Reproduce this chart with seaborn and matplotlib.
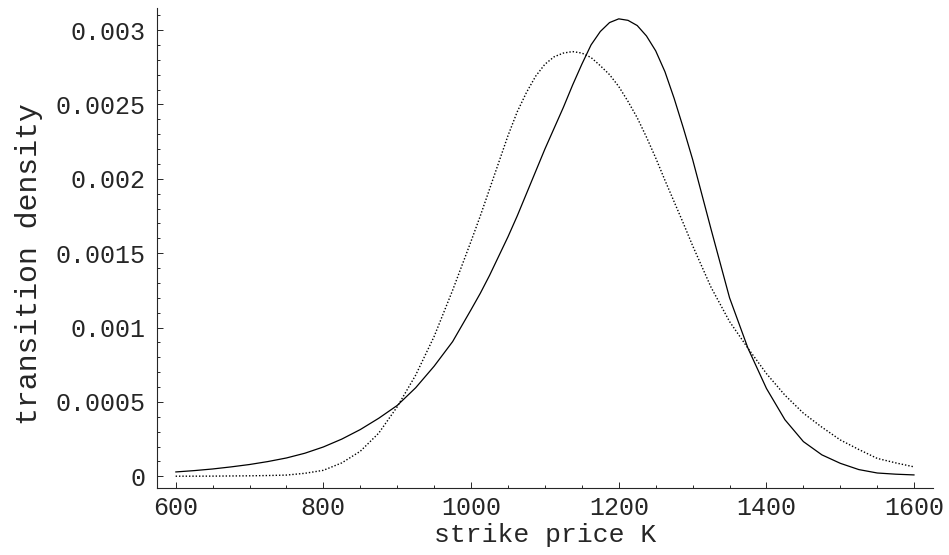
import matplotlib
matplotlib.use('Agg')
from matplotlib import pyplot as plt
from matplotlib import ticker as ticker
import pandas as pd
import seaborn as sns

sns.set_style('ticks')
plt.rcParams['font.family'] = ['Liberation Mono', 'DejaVu Sans Mono']

# strike prices (K) and read-off densities (x 1e-4)
strike = [600, 625, 650, 675, 700, 725, 750, 775, 800, 825, 850, 875, 900, 925,
          950, 975,
          1000, 1012.5, 1025, 1037.5, 1050, 1062.5, 1075, 1087.5, 1100, 1112.5,
          1125, 1137.5, 1150, 1162.5, 1175, 1187.5, 1200, 1212.5, 1225, 1237.5,
          1250, 1262.5, 1275, 1287.5, 1300,
          1325, 1350, 1375, 1400, 1425, 1450, 1475, 1500, 1525, 1550, 1575, 1600]
solid = [0.29, 0.38, 0.49, 0.63, 0.79, 0.99, 1.23, 1.55, 1.97, 2.50, 3.14, 3.90,
         4.76, 5.95, 7.4, 9.05,
         11.2, 12.3, 13.5, 14.8, 16.1, 17.5, 19.0, 20.5, 22.0, 23.4,
         24.8, 26.3, 27.7, 29.0, 29.9, 30.5, 30.75, 30.65, 30.3, 29.6,
         28.6, 27.2, 25.4, 23.4, 21.3,
         16.6, 12.0, 8.6, 5.9, 3.8, 2.33, 1.44, 0.87, 0.45, 0.22, 0.14, 0.09]
dotted = [0.005, 0.007, 0.01, 0.02, 0.03, 0.05, 0.08, 0.2, 0.4, 0.9, 1.68, 2.9,
          4.67, 6.8, 9.4, 12.5,
          15.8, 17.5, 19.3, 21.1, 22.9, 24.5, 25.8, 26.9, 27.7, 28.2,
          28.45, 28.55, 28.45, 28.15, 27.6, 27.0, 26.2, 25.2, 24.1, 22.8,
          21.4, 19.9, 18.45, 17.0, 15.5,
          12.7, 10.4, 8.6, 6.9, 5.45, 4.24, 3.3, 2.44, 1.8, 1.2, 0.9, 0.63]
yticks = [0, 0.0005, 0.001, 0.0015, 0.002, 0.0025, 0.003]
ytick_labels = ['0', '0.0005', '0.001', '0.0015', '0.002', '0.0025', '0.003']
xticks = [600, 800, 1000, 1200, 1400, 1600]

df = pd.DataFrame({'K': strike,
                   'solid': [v * 1e-4 for v in solid],
                   'dotted': [v * 1e-4 for v in dotted]})

fig = plt.figure(figsize=(9.49, 5.55), dpi=100)
ax = fig.add_axes([0.1654, 0.1213, 0.983 - 0.1654, 0.9856 - 0.1213])

sns.lineplot(x='K', y='solid', data=df, color='black', lw=0.9, ax=ax)
sns.lineplot(x='K', y='dotted', data=df, color='black', lw=1.0,
             linestyle=(0, (1, 1.4)), ax=ax)

ax.set(xlim=(574.7, 1625.3), ylim=(-0.0000767, 0.003148))
ax.set_xticks(xticks)
ax.set_xticklabels([str(x) for x in xticks])
ax.set_yticks(yticks)
ax.set_yticklabels(ytick_labels)
ax.xaxis.set_minor_locator(ticker.MultipleLocator(50))
ax.yaxis.set_minor_locator(ticker.MultipleLocator(0.0001))
ax.tick_params(which='major', direction='in', length=4.3, width=0.7,
               labelsize=18, pad=6)
ax.tick_params(which='minor', direction='in', length=2.2, width=0.7)
ax.tick_params(axis='y', which='major', pad=8)

sns.despine(ax=ax)
for s in ['left', 'bottom']:
    ax.spines[s].set_linewidth(0.8)

ax.set_xlabel('strike price K', fontsize=19, labelpad=2)
ax.set_ylabel('transition density', fontsize=21.5)
ax.yaxis.set_label_coords(-0.147, 0.466)

plt.savefig('out.png', dpi=100)
